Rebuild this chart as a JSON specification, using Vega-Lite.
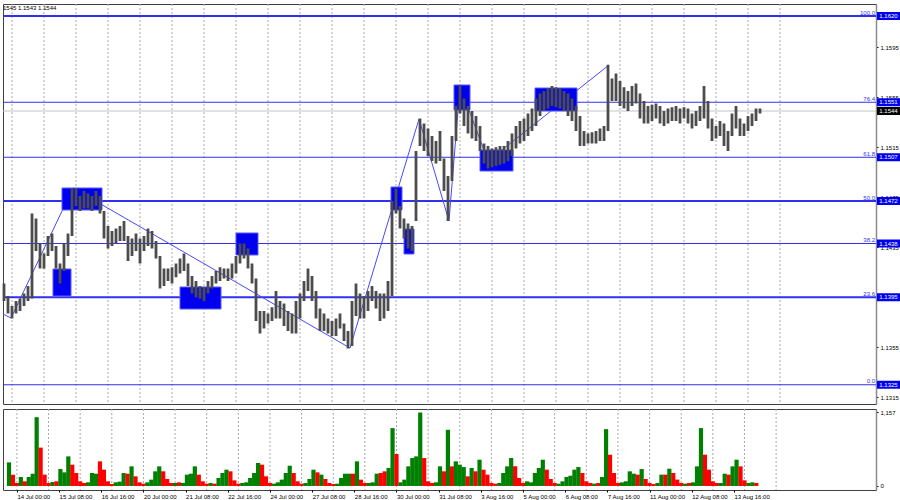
{
"$schema": "https://vega.github.io/schema/vega-lite/v6.json",
"padding": {"left": 0, "top": 3, "right": 0, "bottom": 0},
"background": "white",
"config": {
  "view": {"stroke": "#404040", "strokeWidth": 1},
  "axis": {"labelFont": "Liberation Sans", "labelFontSize": 6, "labelColor": "#000000"},
  "text": {"font": "Liberation Sans", "fontSize": 6}
},
"datasets": {
  "grid": [{"g":0},{"g":24},{"g":48},{"g":72},{"g":96},{"g":120},{"g":144},{"g":168},{"g":192},{"g":216},{"g":240},{"g":264},{"g":288},{"g":312},{"g":336},{"g":360},{"g":384},{"g":408},{"g":432},{"g":456},{"g":480},{"g":504},{"g":528},{"g":552},{"g":576}],
  "fib": [
    {"f":100,"p":1.1620,"t":"100.0"},
    {"f":76.4,"p":1.1551,"t":"76.4"},
    {"f":61.8,"p":1.1507,"t":"61.8"},
    {"f":50,"p":1.1472,"t":"50.0"},
    {"f":38.2,"p":1.1438,"t":"38.2"},
    {"f":23.6,"p":1.1395,"t":"23.6"},
    {"f":0,"p":1.1325,"t":"0.0"}
  ],
  "zz": [
    {"i":-6.75,"p":1.13816},{"i":-0.75,"p":1.13784},{"i":45.75,"p":1.14824},{"i":253.5,"p":1.13544},
    {"i":305.25,"p":1.15376},{"i":327.75,"p":1.14560},{"i":336,"p":1.15640},{"i":357,"p":1.15040},{"i":447.75,"p":1.15808}
  ],
  "boxes": [
    {"i1":37.5,"i2":67.5,"p1":1.14824,"p2":1.14648},
    {"i1":30.75,"i2":44.25,"p1":1.14176,"p2":1.13960},
    {"i1":126,"i2":156.75,"p1":1.14032,"p2":1.13856},
    {"i1":168,"i2":184.5,"p1":1.14464,"p2":1.14288},
    {"i1":284.25,"i2":292.5,"p1":1.14832,"p2":1.14648},
    {"i1":294,"i2":301.5,"p1":1.14496,"p2":1.14296},
    {"i1":331.5,"i2":343.5,"p1":1.15648,"p2":1.15448},
    {"i1":351,"i2":375.75,"p1":1.15128,"p2":1.14960},
    {"i1":392.25,"i2":423.75,"p1":1.15624,"p2":1.15440}
  ],
  "bars": [
{"i":-6,"l":1.1392,"h":1.1406,"v":369,"c":"g"},
{"i":-3,"l":1.1382,"h":1.1396,"v":177,"c":"r"},
{"i":0,"l":1.1378,"h":1.1388,"v":47,"c":"r"},
{"i":3,"l":1.1382,"h":1.1392,"v":140,"c":"g"},
{"i":6,"l":1.1384,"h":1.1394,"v":73,"c":"r"},
{"i":9,"l":1.1388,"h":1.1398,"v":140,"c":"g"},
{"i":12,"l":1.1392,"h":1.1404,"v":192,"c":"g"},
{"i":15,"l":1.1394,"h":1.1462,"v":1076,"c":"g"},
{"i":18,"l":1.1432,"h":1.1458,"v":600,"c":"r"},
{"i":21,"l":1.1418,"h":1.1438,"v":177,"c":"r"},
{"i":24,"l":1.1418,"h":1.1430,"v":47,"c":"r"},
{"i":27,"l":1.1428,"h":1.1444,"v":62,"c":"g"},
{"i":30,"l":1.1432,"h":1.1446,"v":73,"c":"r"},
{"i":33,"l":1.1418,"h":1.1436,"v":265,"c":"g"},
{"i":36,"l":1.1406,"h":1.1422,"v":213,"c":"g"},
{"i":39,"l":1.1416,"h":1.1438,"v":463,"c":"g"},
{"i":42,"l":1.1428,"h":1.1446,"v":333,"c":"r"},
{"i":45,"l":1.1444,"h":1.1482,"v":203,"c":"r"},
{"i":48,"l":1.1468,"h":1.1482,"v":73,"c":"r"},
{"i":51,"l":1.1464,"h":1.1476,"v":47,"c":"r"},
{"i":54,"l":1.1466,"h":1.1480,"v":57,"c":"g"},
{"i":57,"l":1.1466,"h":1.1478,"v":203,"c":"g"},
{"i":60,"l":1.1464,"h":1.1476,"v":192,"c":"g"},
{"i":63,"l":1.1468,"h":1.1480,"v":385,"c":"r"},
{"i":66,"l":1.1462,"h":1.1476,"v":255,"c":"r"},
{"i":69,"l":1.1442,"h":1.1464,"v":73,"c":"r"},
{"i":72,"l":1.1434,"h":1.1452,"v":31,"c":"r"},
{"i":75,"l":1.1436,"h":1.1448,"v":57,"c":"g"},
{"i":78,"l":1.1438,"h":1.1450,"v":68,"c":"g"},
{"i":81,"l":1.1440,"h":1.1452,"v":203,"c":"g"},
{"i":84,"l":1.1440,"h":1.1456,"v":192,"c":"r"},
{"i":87,"l":1.1424,"h":1.1444,"v":307,"c":"g"},
{"i":90,"l":1.1428,"h":1.1442,"v":151,"c":"r"},
{"i":93,"l":1.1432,"h":1.1446,"v":57,"c":"r"},
{"i":96,"l":1.1422,"h":1.1442,"v":36,"c":"r"},
{"i":99,"l":1.1432,"h":1.1444,"v":57,"c":"g"},
{"i":102,"l":1.1436,"h":1.1450,"v":99,"c":"g"},
{"i":105,"l":1.1434,"h":1.1448,"v":229,"c":"g"},
{"i":108,"l":1.1426,"h":1.1440,"v":307,"c":"g"},
{"i":111,"l":1.1402,"h":1.1428,"v":229,"c":"r"},
{"i":114,"l":1.1404,"h":1.1418,"v":109,"c":"r"},
{"i":117,"l":1.1408,"h":1.1418,"v":47,"c":"r"},
{"i":120,"l":1.1406,"h":1.1419,"v":47,"c":"g"},
{"i":123,"l":1.1411,"h":1.1422,"v":57,"c":"r"},
{"i":126,"l":1.1414,"h":1.1426,"v":47,"c":"g"},
{"i":129,"l":1.1416,"h":1.1430,"v":177,"c":"g"},
{"i":132,"l":1.1404,"h":1.1422,"v":192,"c":"g"},
{"i":135,"l":1.1398,"h":1.1412,"v":307,"c":"g"},
{"i":138,"l":1.1395,"h":1.1408,"v":177,"c":"r"},
{"i":141,"l":1.1394,"h":1.1404,"v":73,"c":"r"},
{"i":144,"l":1.1392,"h":1.1403,"v":36,"c":"r"},
{"i":147,"l":1.1398,"h":1.1408,"v":47,"c":"g"},
{"i":150,"l":1.1402,"h":1.1412,"v":36,"c":"r"},
{"i":153,"l":1.1406,"h":1.1416,"v":125,"c":"g"},
{"i":156,"l":1.1408,"h":1.1419,"v":203,"c":"g"},
{"i":159,"l":1.1410,"h":1.1418,"v":255,"c":"g"},
{"i":162,"l":1.1408,"h":1.1418,"v":229,"c":"r"},
{"i":165,"l":1.1410,"h":1.1422,"v":88,"c":"r"},
{"i":168,"l":1.1414,"h":1.1428,"v":36,"c":"r"},
{"i":171,"l":1.1422,"h":1.1438,"v":47,"c":"g"},
{"i":174,"l":1.1426,"h":1.1438,"v":57,"c":"g"},
{"i":177,"l":1.1418,"h":1.1434,"v":125,"c":"g"},
{"i":180,"l":1.1406,"h":1.1422,"v":203,"c":"g"},
{"i":183,"l":1.1376,"h":1.1410,"v":359,"c":"g"},
{"i":186,"l":1.1366,"h":1.1384,"v":333,"c":"r"},
{"i":189,"l":1.1370,"h":1.1384,"v":151,"c":"r"},
{"i":192,"l":1.1374,"h":1.1382,"v":47,"c":"r"},
{"i":195,"l":1.1376,"h":1.1387,"v":36,"c":"g"},
{"i":198,"l":1.1378,"h":1.1400,"v":57,"c":"g"},
{"i":201,"l":1.1378,"h":1.1392,"v":99,"c":"g"},
{"i":204,"l":1.1372,"h":1.1390,"v":203,"c":"g"},
{"i":207,"l":1.1368,"h":1.1384,"v":317,"c":"g"},
{"i":210,"l":1.1366,"h":1.1382,"v":203,"c":"r"},
{"i":213,"l":1.1366,"h":1.1392,"v":73,"c":"r"},
{"i":216,"l":1.1378,"h":1.1398,"v":36,"c":"r"},
{"i":219,"l":1.1392,"h":1.1408,"v":47,"c":"g"},
{"i":222,"l":1.1400,"h":1.1418,"v":109,"c":"g"},
{"i":225,"l":1.1392,"h":1.1412,"v":255,"c":"g"},
{"i":228,"l":1.1378,"h":1.1400,"v":213,"c":"r"},
{"i":231,"l":1.1368,"h":1.1386,"v":177,"c":"g"},
{"i":234,"l":1.1368,"h":1.1382,"v":109,"c":"r"},
{"i":237,"l":1.1366,"h":1.1378,"v":47,"c":"r"},
{"i":240,"l":1.1364,"h":1.1376,"v":31,"c":"r"},
{"i":243,"l":1.1364,"h":1.1378,"v":36,"c":"g"},
{"i":246,"l":1.1370,"h":1.1382,"v":125,"c":"g"},
{"i":249,"l":1.1360,"h":1.1374,"v":192,"c":"g"},
{"i":252,"l":1.1354,"h":1.1368,"v":192,"c":"g"},
{"i":255,"l":1.1356,"h":1.1392,"v":192,"c":"r"},
{"i":258,"l":1.1380,"h":1.1406,"v":385,"c":"g"},
{"i":261,"l":1.1378,"h":1.1398,"v":99,"c":"r"},
{"i":264,"l":1.1378,"h":1.1396,"v":47,"c":"r"},
{"i":267,"l":1.1384,"h":1.1400,"v":47,"c":"g"},
{"i":270,"l":1.1392,"h":1.1404,"v":57,"c":"g"},
{"i":273,"l":1.1386,"h":1.1400,"v":192,"c":"g"},
{"i":276,"l":1.1376,"h":1.1398,"v":203,"c":"r"},
{"i":279,"l":1.1378,"h":1.1398,"v":229,"c":"r"},
{"i":282,"l":1.1384,"h":1.1408,"v":281,"c":"g"},
{"i":285,"l":1.1396,"h":1.1472,"v":905,"c":"g"},
{"i":288,"l":1.1462,"h":1.1482,"v":500,"c":"r"},
{"i":291,"l":1.1450,"h":1.1468,"v":57,"c":"g"},
{"i":294,"l":1.1442,"h":1.1458,"v":99,"c":"g"},
{"i":297,"l":1.1434,"h":1.1454,"v":307,"c":"g"},
{"i":300,"l":1.1432,"h":1.1452,"v":437,"c":"g"},
{"i":303,"l":1.1456,"h":1.1512,"v":463,"c":"g"},
{"i":306,"l":1.1516,"h":1.1538,"v":1149,"c":"g"},
{"i":309,"l":1.1512,"h":1.1534,"v":437,"c":"r"},
{"i":312,"l":1.1508,"h":1.1530,"v":73,"c":"r"},
{"i":315,"l":1.1504,"h":1.1524,"v":47,"c":"r"},
{"i":318,"l":1.1502,"h":1.1520,"v":57,"c":"g"},
{"i":321,"l":1.1504,"h":1.1528,"v":307,"c":"g"},
{"i":324,"l":1.1480,"h":1.1506,"v":229,"c":"r"},
{"i":327,"l":1.1456,"h":1.1492,"v":879,"c":"g"},
{"i":330,"l":1.1488,"h":1.1524,"v":307,"c":"r"},
{"i":333,"l":1.1520,"h":1.1548,"v":385,"c":"g"},
{"i":336,"l":1.1542,"h":1.1564,"v":333,"c":"g"},
{"i":339,"l":1.1532,"h":1.1554,"v":296,"c":"g"},
{"i":342,"l":1.1526,"h":1.1548,"v":151,"c":"r"},
{"i":345,"l":1.1522,"h":1.1544,"v":281,"c":"g"},
{"i":348,"l":1.1520,"h":1.1540,"v":229,"c":"r"},
{"i":351,"l":1.1512,"h":1.1532,"v":411,"c":"g"},
{"i":354,"l":1.1502,"h":1.1518,"v":255,"c":"r"},
{"i":357,"l":1.1498,"h":1.1516,"v":177,"c":"r"},
{"i":360,"l":1.1499,"h":1.1514,"v":47,"c":"r"},
{"i":363,"l":1.1500,"h":1.1515,"v":36,"c":"r"},
{"i":366,"l":1.1501,"h":1.1516,"v":47,"c":"g"},
{"i":369,"l":1.1502,"h":1.1516,"v":203,"c":"g"},
{"i":372,"l":1.1504,"h":1.1520,"v":307,"c":"g"},
{"i":375,"l":1.1508,"h":1.1526,"v":437,"c":"g"},
{"i":378,"l":1.1514,"h":1.1532,"v":307,"c":"r"},
{"i":381,"l":1.1518,"h":1.1536,"v":125,"c":"r"},
{"i":384,"l":1.1520,"h":1.1538,"v":47,"c":"r"},
{"i":387,"l":1.1524,"h":1.1542,"v":73,"c":"g"},
{"i":390,"l":1.1528,"h":1.1546,"v":57,"c":"g"},
{"i":393,"l":1.1532,"h":1.1554,"v":203,"c":"g"},
{"i":396,"l":1.1540,"h":1.1558,"v":281,"c":"g"},
{"i":399,"l":1.1544,"h":1.1560,"v":411,"c":"g"},
{"i":402,"l":1.1546,"h":1.1562,"v":255,"c":"r"},
{"i":405,"l":1.1548,"h":1.1564,"v":109,"c":"r"},
{"i":408,"l":1.1547,"h":1.1563,"v":47,"c":"r"},
{"i":411,"l":1.1546,"h":1.1562,"v":36,"c":"g"},
{"i":414,"l":1.1544,"h":1.1560,"v":73,"c":"g"},
{"i":417,"l":1.1540,"h":1.1558,"v":140,"c":"g"},
{"i":420,"l":1.1536,"h":1.1554,"v":161,"c":"g"},
{"i":423,"l":1.1528,"h":1.1548,"v":255,"c":"g"},
{"i":426,"l":1.1516,"h":1.1540,"v":296,"c":"g"},
{"i":429,"l":1.1516,"h":1.1528,"v":203,"c":"r"},
{"i":432,"l":1.1518,"h":1.1526,"v":73,"c":"r"},
{"i":435,"l":1.1518,"h":1.1527,"v":47,"c":"r"},
{"i":438,"l":1.1518,"h":1.1528,"v":36,"c":"g"},
{"i":441,"l":1.1520,"h":1.1530,"v":47,"c":"r"},
{"i":444,"l":1.1520,"h":1.1532,"v":140,"c":"g"},
{"i":447,"l":1.1528,"h":1.1581,"v":889,"c":"g"},
{"i":450,"l":1.1552,"h":1.1570,"v":489,"c":"r"},
{"i":453,"l":1.1552,"h":1.1574,"v":203,"c":"r"},
{"i":456,"l":1.1548,"h":1.1568,"v":47,"c":"r"},
{"i":459,"l":1.1546,"h":1.1563,"v":57,"c":"g"},
{"i":462,"l":1.1544,"h":1.1560,"v":73,"c":"g"},
{"i":465,"l":1.1548,"h":1.1564,"v":229,"c":"g"},
{"i":468,"l":1.1550,"h":1.1566,"v":192,"c":"g"},
{"i":471,"l":1.1538,"h":1.1558,"v":177,"c":"r"},
{"i":474,"l":1.1534,"h":1.1552,"v":265,"c":"g"},
{"i":477,"l":1.1534,"h":1.1548,"v":109,"c":"r"},
{"i":480,"l":1.1536,"h":1.1549,"v":47,"c":"r"},
{"i":483,"l":1.1538,"h":1.1550,"v":31,"c":"r"},
{"i":486,"l":1.1534,"h":1.1548,"v":47,"c":"g"},
{"i":489,"l":1.1532,"h":1.1544,"v":177,"c":"g"},
{"i":492,"l":1.1534,"h":1.1546,"v":177,"c":"r"},
{"i":495,"l":1.1536,"h":1.1547,"v":270,"c":"g"},
{"i":498,"l":1.1536,"h":1.1548,"v":203,"c":"r"},
{"i":501,"l":1.1534,"h":1.1546,"v":99,"c":"r"},
{"i":504,"l":1.1538,"h":1.1547,"v":47,"c":"r"},
{"i":507,"l":1.1534,"h":1.1546,"v":36,"c":"g"},
{"i":510,"l":1.1530,"h":1.1542,"v":47,"c":"r"},
{"i":513,"l":1.1532,"h":1.1544,"v":57,"c":"g"},
{"i":516,"l":1.1536,"h":1.1548,"v":307,"c":"g"},
{"i":519,"l":1.1538,"h":1.1564,"v":905,"c":"g"},
{"i":522,"l":1.1530,"h":1.1552,"v":489,"c":"r"},
{"i":525,"l":1.1520,"h":1.1538,"v":255,"c":"r"},
{"i":528,"l":1.1522,"h":1.1532,"v":73,"c":"r"},
{"i":531,"l":1.1524,"h":1.1536,"v":47,"c":"r"},
{"i":534,"l":1.1516,"h":1.1534,"v":47,"c":"g"},
{"i":537,"l":1.1512,"h":1.1528,"v":192,"c":"g"},
{"i":540,"l":1.1524,"h":1.1542,"v":177,"c":"r"},
{"i":543,"l":1.1530,"h":1.1548,"v":307,"c":"g"},
{"i":546,"l":1.1524,"h":1.1538,"v":411,"c":"g"},
{"i":549,"l":1.1524,"h":1.1534,"v":307,"c":"r"},
{"i":552,"l":1.1528,"h":1.1540,"v":88,"c":"r"},
{"i":555,"l":1.1532,"h":1.1542,"v":47,"c":"g"},
{"i":558,"l":1.1536,"h":1.1546,"v":57,"c":"g"},
{"i":561,"l":1.1542,"h":1.1546,"v":47,"c":"r"}
  ],
  "last": [{"p":1.1544}],
  "hdr": [{"t":"1545 1.1543 1.1544","i":-6.75,"p":1.16268}]
},
"spacing": 3,
"vconcat": [
  {
    "width": 873,
    "height": 400,
    "layer": [
      {"data": {"name": "grid"},
       "mark": {"type": "rule", "color": "#a8a8a8", "strokeDash": [2, 2], "strokeWidth": 1},
       "encoding": {"x": {"field": "g", "type": "quantitative", "scale": {"domain": [-6.75, 648], "nice": false, "zero": false}, "axis": null}}},
      {"data": {"name": "fib"},
       "mark": {"type": "rule", "color": "#3030f0"},
       "encoding": {
         "y": {"field": "p", "type": "quantitative", "title": null,
               "scale": {"domain": [1.13096, 1.16296], "nice": false, "zero": false},
               "axis": {"orient": "right", "values": [1.1315,1.1335,1.1355,1.1375,1.1395,1.1415,1.1435,1.1455,1.1475,1.1495,1.1515,1.1535,1.1555,1.1575,1.1595,1.1615],
                        "format": ".4f", "grid": false, "tickSize": 2, "tickColor": "#000000", "domainColor": "#8a8a8a", "domainWidth": 1.5, "labelPadding": 2, "labelFlush": false, "labelOverlap": false}},
         "strokeWidth": {"condition": {"test": "datum.f == 100 || datum.f == 50 || datum.f == 23.6", "value": 2}, "value": 1}}},
      {"data": {"name": "last"},
       "mark": {"type": "rule", "color": "#c4c4c4", "strokeWidth": 1},
       "encoding": {"y": {"field": "p", "type": "quantitative", "title": null}}},
      {"data": {"name": "zz"},
       "mark": {"type": "line", "color": "#4848ff", "strokeWidth": 1},
       "encoding": {"x": {"field": "i", "type": "quantitative", "axis": null}, "y": {"field": "p", "type": "quantitative", "title": null}}},
      {"data": {"name": "boxes"},
       "mark": {"type": "rect", "fill": "#0000ee", "stroke": "#5a5aff", "strokeWidth": 1},
       "encoding": {"x": {"field": "i1", "type": "quantitative", "axis": null}, "x2": {"field": "i2"},
                    "y": {"field": "p1", "type": "quantitative", "title": null}, "y2": {"field": "p2"}}},
      {"data": {"name": "bars"},
       "mark": {"type": "rule", "color": "#4c4c4c", "strokeWidth": 2.8},
       "encoding": {"x": {"field": "i", "type": "quantitative", "axis": null},
                    "y": {"field": "l", "type": "quantitative", "title": null}, "y2": {"field": "h"}}},
      {"data": {"name": "fib"},
       "mark": {"type": "text", "color": "#3030f0", "align": "right", "baseline": "bottom", "dx": -1, "dy": -0.5, "fontSize": 6},
       "encoding": {"x": {"datum": 648, "type": "quantitative", "axis": null},
                    "y": {"field": "p", "type": "quantitative", "title": null}, "text": {"field": "t"}}},
      {"data": {"name": "fib"},
       "mark": {"type": "rule", "color": "#0000ee", "strokeWidth": 8, "strokeCap": "butt"},
       "encoding": {"x": {"datum": 648.75, "type": "quantitative", "axis": null}, "x2": {"datum": 666.5},
                    "y": {"field": "p", "type": "quantitative", "title": null}}},
      {"data": {"name": "fib"},
       "mark": {"type": "text", "color": "#ffffff", "align": "left", "baseline": "middle", "fontSize": 6},
       "encoding": {"x": {"datum": 650.5, "type": "quantitative", "axis": null},
                    "y": {"field": "p", "type": "quantitative", "title": null}, "text": {"field": "p", "format": ".4f"}}},
      {"data": {"name": "last"},
       "mark": {"type": "rule", "color": "#000000", "strokeWidth": 8, "strokeCap": "butt"},
       "encoding": {"x": {"datum": 648.75, "type": "quantitative", "axis": null}, "x2": {"datum": 666.5},
                    "y": {"field": "p", "type": "quantitative", "title": null}}},
      {"data": {"name": "last"},
       "mark": {"type": "text", "color": "#ffffff", "align": "left", "baseline": "middle", "fontSize": 6},
       "encoding": {"x": {"datum": 650.5, "type": "quantitative", "axis": null},
                    "y": {"field": "p", "type": "quantitative", "title": null}, "text": {"field": "p", "format": ".4f"}}},
      {"data": {"name": "hdr"},
       "mark": {"type": "text", "color": "#000000", "align": "left", "baseline": "middle", "fontSize": 6},
       "encoding": {"x": {"field": "i", "type": "quantitative", "axis": null},
                    "y": {"field": "p", "type": "quantitative", "title": null}, "text": {"field": "t"}}}
    ]
  },
  {
    "width": 873,
    "height": 81,
    "layer": [
      {"data": {"name": "grid"},
       "mark": {"type": "rule", "color": "#a8a8a8", "strokeDash": [2, 2], "strokeWidth": 1},
       "encoding": {"x": {"field": "g", "type": "quantitative", "title": null, "scale": {"domain": [-6.75, 648], "nice": false, "zero": false}}}},
      {"data": {"name": "bars"},
       "mark": {"type": "bar", "width": 4.2},
       "encoding": {
         "x": {"field": "i", "type": "quantitative", "title": null,
               "axis": {"orient": "bottom", "values": [0,32,64,96,128,160,192,224,256,288,320,352,384,416,448,480,512,544],
                        "labelExpr": "['14 Jul 00:00','15 Jul 08:00','16 Jul 16:00','20 Jul 00:00','21 Jul 08:00','22 Jul 16:00','24 Jul 00:00','27 Jul 08:00','28 Jul 16:00','30 Jul 00:00','31 Jul 08:00','3 Aug 16:00','5 Aug 00:00','6 Aug 08:00','7 Aug 16:00','11 Aug 00:00','12 Aug 08:00','13 Aug 16:00'][round(datum.value/32)]",
                        "labelAlign": "left", "labelBaseline": "top", "labelPadding": 1, "tickSize": 2, "tickColor": "#000000", "domain": false, "grid": false, "labelFlush": false, "labelOverlap": false}},
         "y": {"field": "v", "type": "quantitative", "title": null,
               "scale": {"domain": [-63, 1204], "nice": false, "zero": false},
               "axis": {"orient": "right", "values": [0, 1157], "tickSize": 2, "tickColor": "#000000", "domainColor": "#8a8a8a", "domainWidth": 1.5, "labelPadding": 2, "grid": false, "labelFlush": false}},
         "y2": {"datum": 0},
         "color": {"field": "c", "type": "nominal", "scale": {"domain": ["g", "r"], "range": ["#008000", "#ff0000"]}, "legend": null}}}
    ]
  }
]
}
